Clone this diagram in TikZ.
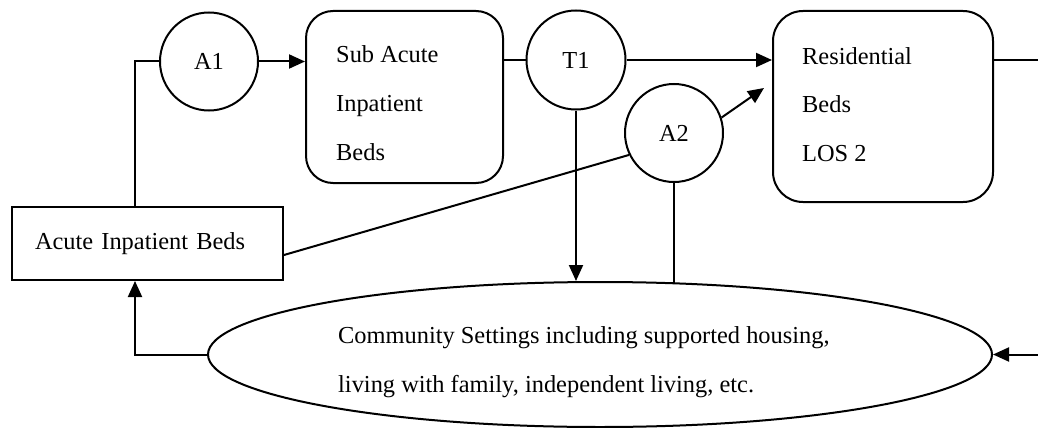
\documentclass[tikz,border=0pt]{standalone}
\usepackage{fontspec}
\setmainfont{Liberation Serif}
\usetikzlibrary{arrows.meta,shapes.geometric,calc}
\begin{document}
\begin{tikzpicture}[x=1pt,y=-1pt,
  every node/.style={font=\fontsize{24.4}{48.5}\selectfont},
  line/.style={line width=2pt},
  arr/.style={line width=2pt, -{Triangle[length=16pt,width=14pt]}},
  rbox/.style={draw, line width=2pt, inner sep=0pt},
  circ/.style={draw, circle, line width=2pt, inner sep=0pt, minimum size=98pt},
  txt/.style={anchor=base west, inner sep=0pt}
]
\useasboundingbox (0,0) rectangle (1038,428);

% boxes
\node[rbox, minimum width=271pt, minimum height=73pt, inner xsep=23pt, text width=225pt, align=left] (acute) at (147.5,243.5) {Acute Inpatient Beds};
\node[rbox, rounded corners=27pt, minimum width=197pt, minimum height=172pt] (sub) at (404.5,97) {};
\node[rbox, rounded corners=30pt, minimum width=220pt, minimum height=191pt] (res) at (883,106.5) {};
\node[draw, ellipse, line width=2pt, inner sep=0pt, minimum width=784pt, minimum height=145pt] (ell) at (600,354.5) {};

% circles
\node[circ] (a1) at (209,61.5) {A1};
\node[circ, minimum size=99pt] (t1) at (576,60) {T1};
\node[circ] (a2) at (674,133) {A2};

% texts
\node[txt] (subtxt) at (336,63) {\parbox[t]{160pt}{\raggedright\fontsize{24.4}{48.5}\selectfont Sub Acute\\Inpatient\\Beds}};
\node[txt] (restxt) at (802,64) {\parbox[t]{170pt}{\raggedright\fontsize{24.4}{48.75}\selectfont Residential\\Beds\\LOS 2}};
\node[txt] (elltxt) at (338,343) {\parbox[t]{540pt}{\raggedright\fontsize{24.4}{49}\selectfont Community Settings including supported housing,\\living with family, independent living, etc.}};

% free ends at the right edge
\coordinate (edgeA) at (1045,60);
\coordinate (edgeB) at (1045,354.5);

% connectors
\draw[line] ([xshift=-12.5pt]acute.north) |- (a1.west);
\draw[arr] (a1.east) -- (a1.east -| sub.west);
\draw[line] (sub.east |- t1.west) -- (t1.west);
\draw[arr] (t1.east) -- (t1.east -| res.west);
\draw[arr] (t1.south) -- (t1.south |- ell.north);
\draw[line] ([yshift=-11.5pt]acute.east) -- (a2.206);
\draw[arr] (a2.18) -- ([xshift=-8pt,yshift=18.5pt]res.west);
\draw[line] (a2.south) -- ([yshift=-1.8pt]a2.south |- ell.north);
\draw[line] (res.east |- t1.east) -- (edgeA);
\draw[arr] (edgeB) -- (ell.east);
\draw[arr] (ell.west) -| ([xshift=-12.5pt]acute.south);
\end{tikzpicture}
\end{document}
